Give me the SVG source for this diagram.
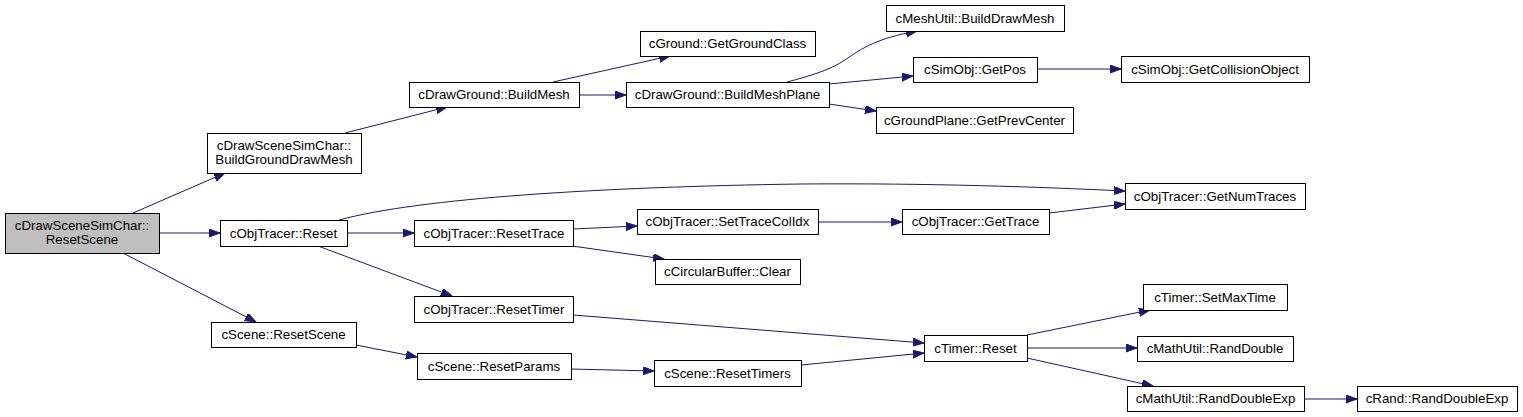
<svg xmlns="http://www.w3.org/2000/svg" width="1523" height="417" viewBox="0 0 1523 417">
<style>
.n rect{fill:#ffffff;stroke:#000000;stroke-width:1}
.n.g rect{fill:#bfbfbf}
.n text{font-family:"Liberation Sans",Arial,sans-serif;font-size:13.3px;fill:#000000;text-anchor:middle}
.e path{fill:none;stroke:#191970;stroke-width:1;marker-end:url(#ah)}
</style>
<defs>
<marker id="ah" markerUnits="userSpaceOnUse" markerWidth="12" markerHeight="9" refX="11" refY="4" orient="auto" viewBox="0 0 12 9">
<path d="M0,0 L11,4 L0,8 z" fill="#191970" stroke="#191970" stroke-width="1"/>
</marker>
</defs>
<rect width="1523" height="417" fill="#ffffff"/>
<g id="edges" class="e">
<path d="M133,213 L225,173"/>
<path d="M159,233 L220,233"/>
<path d="M123,253 L256,322"/>
<path d="M345,133 L447,107"/>
<path d="M553,82 L670,56"/>
<path d="M579,95 L626,95"/>
<path d="M787,82 C810,76 830,70 845,60 C862,48 878,38 917,31"/>
<path d="M829,84 L913,76"/>
<path d="M829,104 L876,111"/>
<path d="M1037,69 L1121,69"/>
<path d="M339,220 C420,198 600,187 800,184 C930,183 1040,187 1125,191"/>
<path d="M347,233 L414,233"/>
<path d="M318,246 L452,296"/>
<path d="M573,229 L637,226"/>
<path d="M572,246 L664,259"/>
<path d="M818,222 L902,222"/>
<path d="M1049,213 L1125,204"/>
<path d="M573,315 L924,343"/>
<path d="M356,345 L417,357"/>
<path d="M571,369 L654,371"/>
<path d="M801,365 L924,353"/>
<path d="M1027,335 L1150,310"/>
<path d="M1027,348 L1137,348"/>
<path d="M1027,358 L1153,386"/>
<path d="M1304,399 L1357,399"/>
</g>
<g id="n0" class="n g"><rect x="5.5" y="213.5" width="154" height="40"/><text x="82" y="230">cDrawSceneSimChar::</text><text x="82" y="244">ResetScene</text></g>
<g id="n1" class="n"><rect x="207.5" y="133.5" width="154" height="40"/><text x="284" y="150">cDrawSceneSimChar::</text><text x="284" y="164">BuildGroundDrawMesh</text></g>
<g id="n2" class="n"><rect x="220.5" y="220.5" width="127" height="26"/><text x="283.5" y="237.5">cObjTracer::Reset</text></g>
<g id="n3" class="n"><rect x="211.5" y="322.5" width="145" height="25"/><text x="283.5" y="339">cScene::ResetScene</text></g>
<g id="n4" class="n"><rect x="409.5" y="82.5" width="170" height="25"/><text x="494" y="99">cDrawGround::BuildMesh</text></g>
<g id="n5" class="n"><rect x="640.5" y="31.5" width="175" height="25"/><text x="727.5" y="48">cGround::GetGroundClass</text></g>
<g id="n6" class="n"><rect x="626.5" y="82.5" width="203" height="25"/><text x="727.5" y="99">cDrawGround::BuildMeshPlane</text></g>
<g id="n7" class="n"><rect x="886.5" y="5.5" width="178" height="26"/><text x="975" y="22.5">cMeshUtil::BuildDrawMesh</text></g>
<g id="n8" class="n"><rect x="913.5" y="57.5" width="124" height="25"/><text x="975" y="74">cSimObj::GetPos</text></g>
<g id="n9" class="n"><rect x="876.5" y="107.5" width="197" height="26"/><text x="974.5" y="124.5">cGroundPlane::GetPrevCenter</text></g>
<g id="n10" class="n"><rect x="1121.5" y="56.5" width="188" height="26"/><text x="1215" y="73.5">cSimObj::GetCollisionObject</text></g>
<g id="n11" class="n"><rect x="1125.5" y="183.5" width="180" height="26"/><text x="1215" y="200.5">cObjTracer::GetNumTraces</text></g>
<g id="n12" class="n"><rect x="414.5" y="220.5" width="159" height="26"/><text x="494" y="237.5">cObjTracer::ResetTrace</text></g>
<g id="n13" class="n"><rect x="637.5" y="209.5" width="181" height="25"/><text x="727.5" y="226">cObjTracer::SetTraceColIdx</text></g>
<g id="n14" class="n"><rect x="655.5" y="259.5" width="145" height="25"/><text x="727.5" y="276">cCircularBuffer::Clear</text></g>
<g id="n15" class="n"><rect x="902.5" y="209.5" width="147" height="25"/><text x="975.5" y="226">cObjTracer::GetTrace</text></g>
<g id="n16" class="n"><rect x="414.5" y="296.5" width="159" height="26"/><text x="494" y="313.5">cObjTracer::ResetTimer</text></g>
<g id="n17" class="n"><rect x="417.5" y="353.5" width="154" height="26"/><text x="494" y="370.5">cScene::ResetParams</text></g>
<g id="n18" class="n"><rect x="924.5" y="335.5" width="103" height="26"/><text x="975.5" y="352.5">cTimer::Reset</text></g>
<g id="n19" class="n"><rect x="654.5" y="360.5" width="147" height="26"/><text x="727.5" y="377.5">cScene::ResetTimers</text></g>
<g id="n20" class="n"><rect x="1143.5" y="284.5" width="144" height="26"/><text x="1215" y="301.5">cTimer::SetMaxTime</text></g>
<g id="n21" class="n"><rect x="1137.5" y="336.5" width="156" height="25"/><text x="1215" y="353">cMathUtil::RandDouble</text></g>
<g id="n22" class="n"><rect x="1127.5" y="386.5" width="177" height="25"/><text x="1215.5" y="403">cMathUtil::RandDoubleExp</text></g>
<g id="n23" class="n"><rect x="1357.5" y="386.5" width="160" height="25"/><text x="1437" y="403">cRand::RandDoubleExp</text></g>
</svg>
